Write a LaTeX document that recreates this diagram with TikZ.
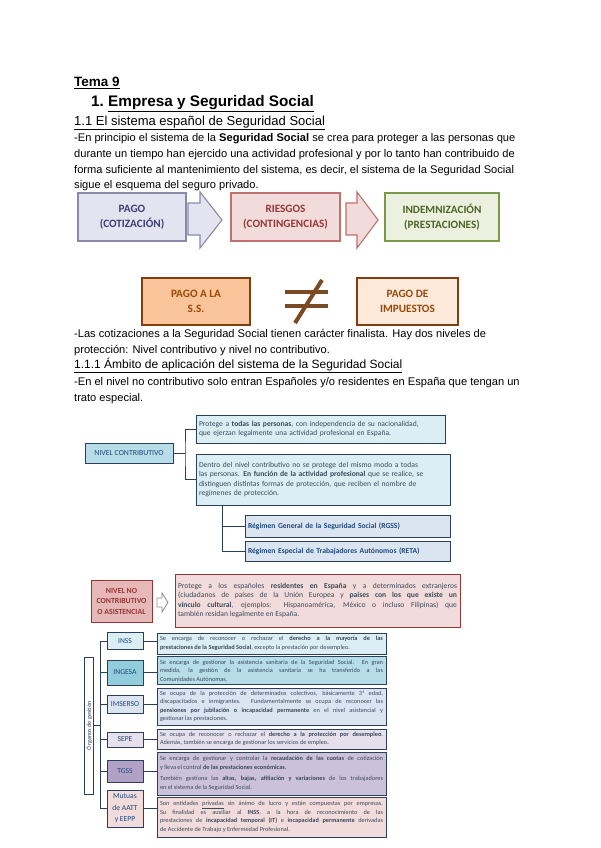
\documentclass[tikz,border=0pt]{standalone}
\usepackage{fontspec}
\setmainfont{Liberation Sans}
\newfontfamily\calibri{Carlito}
\usetikzlibrary{positioning, shadows}

\definecolor{pagofill}{HTML}{E4E3F0}
\definecolor{pagoline}{HTML}{8C89AA}
\definecolor{pagotext}{HTML}{3F3C75}
\definecolor{riesgofill}{HTML}{F2DCDB}
\definecolor{riesgoline}{HTML}{C0706E}
\definecolor{riesgotext}{HTML}{953735}
\definecolor{indemfill}{HTML}{EBF1DE}
\definecolor{indemline}{HTML}{7A9A47}
\definecolor{indemtext}{HTML}{4F6228}
\definecolor{ssfill}{HTML}{FAC49A}
\definecolor{impfill}{HTML}{FDE9D9}
\definecolor{taxline}{HTML}{7F3F10}
\definecolor{taxtext}{HTML}{984807}
\definecolor{neqcol}{HTML}{7B4A22}
\definecolor{treecol}{HTML}{2B3F5C}
\definecolor{ncfill}{HTML}{B7DDE8}
\definecolor{nctext}{HTML}{1F497D}
\definecolor{descfill}{HTML}{DBEEF3}
\definecolor{desctext}{HTML}{3A4A5C}
\definecolor{regfill}{HTML}{DBE5F1}
\definecolor{nncfill}{HTML}{E6B9B8}
\definecolor{nncline}{HTML}{943634}
\definecolor{nncdescfill}{HTML}{F2DCDB}
\definecolor{ingesafill}{HTML}{93CDDD}
\definecolor{sepefill}{HTML}{E5E0EC}
\definecolor{tgssfill}{HTML}{B2A1C7}
\definecolor{tgssdescfill}{HTML}{CCC1DA}

\tikzstyle{bodytext} = [anchor=base west, inner sep=0pt, font=\fontsize{11.1}{15.8}\selectfont]
\tikzstyle{flowbox} = [rectangle, line width=1.2pt, minimum height=48pt, align=center, font=\calibri\bfseries\fontsize{11.2}{14.5}\selectfont]
\tikzstyle{blockarrow} = [line width=1.1pt, line join=miter]
\tikzstyle{taxbox} = [rectangle, draw=taxline, line width=1.3pt, minimum height=47pt, align=center, text=taxtext, font=\calibri\bfseries\fontsize{11.2}{14.5}\selectfont]
\tikzstyle{neqline} = [draw=neqcol, line width=4pt]
\tikzstyle{treeline} = [draw=treecol, line width=1pt]
\tikzstyle{levelbox} = [rectangle, draw=treecol, line width=1pt, text=nctext, font=\calibri\fontsize{7.8}{9.5}\selectfont, drop shadow={shadow xshift=0.8pt, shadow yshift=-0.8pt, opacity=0.6}]
\tikzstyle{descbox} = [rectangle, draw=treecol, line width=1pt, fill=descfill, inner sep=3pt, text=desctext, font=\calibri\fontsize{7.6}{9.5}\selectfont, drop shadow={shadow xshift=0.8pt, shadow yshift=-0.8pt, opacity=0.6}]
\tikzstyle{nncbox} = [rectangle, draw=nncline, line width=1pt, fill=nncfill, text=nncline, minimum width=61pt, minimum height=42pt, inner sep=1pt, align=center, font=\calibri\bfseries\fontsize{7.8}{10.5}\selectfont]
\tikzstyle{organbox} = [rectangle, draw=treecol, line width=0.9pt, minimum width=36pt, inner sep=1pt, align=center, text=nctext, font=\calibri\fontsize{7.6}{11.5}\selectfont]
\tikzstyle{organdesc} = [rectangle, draw=treecol, line width=0.9pt, text width=223pt, inner sep=3pt, align=justify, text=desctext, font=\calibri\fontsize{6.3}{8.5}\selectfont]

\begin{document}
\begin{tikzpicture}[x=1pt, y=-1pt]
\useasboundingbox[fill=white] (0,0) rectangle (600,848);

% Encabezados
\node[bodytext, font=\bfseries\fontsize{13.5}{15}\selectfont] (tema) at (74,86.7) {\underline{Tema 9}};
\node[bodytext, font=\bfseries\fontsize{15.3}{17}\selectfont] (titulo) at (91,106.7) {1.\ \underline{Empresa y Seguridad Social}};
\node[bodytext, font=\fontsize{13}{15}\selectfont] (sistema) at (74,125) {\underline{1.1 El sistema español de Seguridad Social}};
\node[bodytext] (principio) at (74,141.5) {\parbox[t]{500pt}{-En principio el sistema de la \textbf{Seguridad Social} se crea para proteger a las personas que\\durante un tiempo han ejercido una actividad profesional y por lo tanto han contribuido de\\forma suficiente al mantenimiento del sistema, es decir, el sistema de la Seguridad Social\\sigue el esquema del seguro privado.}};

% Esquema del seguro privado
\node[flowbox, draw=pagoline, fill=pagofill, text=pagotext, minimum width=108pt] (pago) at (132,217) {PAGO\\(COTIZACIÓN)};
\node[flowbox, draw=riesgoline, fill=riesgofill, text=riesgotext, minimum width=109pt] (riesgos) at (285.5,217) {RIESGOS\\(CONTINGENCIAS)};
\node[flowbox, draw=indemline, fill=indemfill, text=indemtext, minimum width=114pt] (indemnizacion) at (442,217) {INDEMNIZACIÓN\\(PRESTACIONES)};
\draw[blockarrow, draw=pagoline, fill=pagofill] (188,203) -- (200,203) -- (200,192) -- (222,220) -- (200,248) -- (200,235) -- (188,235) -- cycle;
\draw[blockarrow, draw=riesgoline, fill=riesgofill] (346,203) -- (357,203) -- (357,192) -- (378,220) -- (357,248) -- (357,235) -- (346,235) -- cycle;

% Pago a la S.S. distinto de impuestos
\node[taxbox, fill=ssfill, minimum width=108pt] (pagoss) at (196,301.5) {PAGO A LA\\S.S.};
\node[taxbox, fill=impfill, minimum width=101pt] (impuestos) at (407.5,301.5) {PAGO DE\\IMPUESTOS};
\draw[neqline] (285,292) -- (328,292);
\draw[neqline] (285,306) -- (328,306);
\draw[neqline] (322,280) -- (295,323);

\node[bodytext] (finalista) at (74,337.5) {\parbox[t]{500pt}{-Las cotizaciones a la Seguridad Social tienen carácter finalista. Hay dos niveles de\\protección: Nivel contributivo y nivel no contributivo.}};
\node[bodytext, font=\fontsize{12}{15}\selectfont] (ambito) at (74,368.5) {\underline{1.1.1 Ámbito de aplicación del sistema de la Seguridad Social}};
\node[bodytext] (especial) at (74,385.5) {\parbox[t]{500pt}{-En el nivel no contributivo solo entran Españoles y/o residentes en España que tengan un\\trato especial.}};

% Nivel contributivo
\node[levelbox, fill=ncfill, minimum width=88pt, minimum height=20pt] (contributivo) at (129,453) {NIVEL CONTRIBUTIVO};
\node[descbox, text width=243pt, minimum height=28pt, align=left] (todas) at (320.5,429) {Protege a \textbf{todas las personas}, con independencia de su nacionalidad,\\que ejerzan legalmente una actividad profesional en España.};
\node[descbox, text width=248pt, minimum height=51pt, align=left] (funcion) at (323,479.5) {Dentro del nivel contributivo no se protege del mismo modo a todas\\las personas. \textbf{En función de la actividad profesional} que se realice, se\\distinguen distintas formas de protección, que reciben el nombre de\\regímenes de protección.};
\node[descbox, fill=regfill, text=nctext, text width=199pt, minimum height=22pt, align=left] (rgss) at (347.5,526) {\textbf{Régimen General de la Seguridad Social (RGSS)}};
\node[descbox, fill=regfill, text=nctext, text width=199pt, minimum height=20pt, align=left] (reta) at (347.5,551) {\textbf{Régimen Especial de Trabajadores Autónomos (RETA)}};
\coordinate (ramanc) at (185,453);
\coordinate (ramareg) at (222,505);
\draw[treeline] (contributivo.east) -- (ramanc);
\draw[treeline] (todas.west) -| (ramanc) |- (funcion.west);
\draw[treeline] (ramareg) |- (rgss.west);
\draw[treeline] (ramareg) |- (reta.west);

% Nivel no contributivo
\node[nncbox] (nocontributivo) at (121.5,601) {NIVEL NO\\CONTRIBUTIVO\\O ASISTENCIAL};
\node[descbox, draw=nncline, fill=nncdescfill, text width=279pt, minimum height=53pt, align=justify, font=\calibri\fontsize{7.6}{9.3}\selectfont] (residentes) at (317.5,600.5) {Protege a los españoles \textbf{residentes en España} y a determinados extranjeros\linebreak (ciudadanos de países de la Unión Europea y \textbf{países con los que existe un}\linebreak \textbf{vínculo cultural}, ejemplos: Hispanoamérica, México o incluso Filipinas) que\linebreak también residan legalmente en España.};
\draw[line width=0.8pt, draw=black!45, fill=white, line join=miter] (157,598) -- (162,598) -- (162,593) -- (168,602.5) -- (162,612) -- (162,607) -- (157,607) -- cycle;

% Organos de gestion
\node[rectangle, draw=treecol, line width=0.9pt, minimum width=9pt, minimum height=137pt, inner sep=0pt, text=desctext, font=\calibri\fontsize{6.3}{7}\selectfont] (organos) at (89,725.5) {\rotatebox{90}{Órganos de gestión}};
\node[organbox, fill=descfill, minimum height=17pt] (inss) at (125,641) {INSS};
\node[organbox, fill=ingesafill, minimum height=25pt] (ingesa) at (125,672.5) {INGESA};
\node[organbox, fill=regfill, minimum height=18pt] (imserso) at (125,704) {IMSERSO};
\node[organbox, fill=sepefill, minimum height=15pt] (sepe) at (125,739.5) {SEPE};
\node[organbox, fill=tgssfill, minimum height=22pt] (tgss) at (125,771) {TGSS};
\node[organbox, fill=nncdescfill, minimum height=37pt] (mutuas) at (125,808.5) {Mutuas\\de AATT\\y EEPP};

\node[organdesc, fill=descfill, minimum height=21pt] (inss-d) at (271.5,643.5) {Se encarga de reconocer o rechazar el \textbf{derecho a la mayoría de las}\linebreak \textbf{prestaciones de la Seguridad Social}, excepto la prestación por desempleo.};
\node[organdesc, fill=ncfill, minimum height=25pt] (ingesa-d) at (271.5,670.5) {Se encarga de gestionar la asistencia sanitaria de la Seguridad Social. En gran\linebreak medida, la gestión de la asistencia sanitaria se ha transferido a las\linebreak Comunidades Autónomas.};
\node[organdesc, fill=regfill, minimum height=37pt] (imserso-d) at (271.5,706.5) {Se ocupa de la protección de determinados colectivos, básicamente 3ª edad,\linebreak discapacitados e inmigrantes. Fundamentalmente se ocupa de reconocer las\linebreak \textbf{pensiones por jubilación o incapacidad permanente} en el nivel asistencial y\linebreak gestionar las prestaciones.};
\node[organdesc, fill=sepefill, minimum height=20pt] (sepe-d) at (271.5,739) {Se ocupa de reconocer o rechazar el \textbf{derecho a la protección por desempleo}.\linebreak Además, también se encarga de gestionar los servicios de empleo.};
\node[organdesc, fill=tgssdescfill, minimum height=43pt] (tgss-d) at (271.5,773.5) {Se encarga de gestionar y controlar la \textbf{recaudación de las cuotas} de cotización\linebreak y lleva el control \textbf{de las prestaciones económicas}.\\[3pt]También gestiona las \textbf{altas, bajas, afiliación y variaciones} de los trabajadores\linebreak en el sistema de la Seguridad Social.};
\node[organdesc, fill=nncdescfill, minimum height=40pt] (mutuas-d) at (271.5,817) {Son entidades \underline{privadas} sin ánimo de lucro y están compuestas por empresas.\linebreak Su finalidad es auxiliar al \textbf{INSS}, a la hora de reconocimiento de las\linebreak prestaciones de \textbf{incapacidad temporal (IT)} e \textbf{incapacidad permanente} derivadas\linebreak de Accidente de Trabajo y Enfermedad Profesional.};

\coordinate (tronco) at (100,725.5);
\draw[treeline] (organos.east) -- (tronco);
\draw[treeline] (inss.west) -| (tronco |- mutuas.west) -- (mutuas.west);
\foreach \org in {ingesa, imserso, sepe, tgss}
  \draw[treeline] (tronco |- \org.west) -- (\org.west);
\foreach \org in {inss, ingesa, imserso, sepe, tgss, mutuas}
  \draw[treeline] (\org.east) -- (\org.east -| \org-d.west);

\end{tikzpicture}
\end{document}
